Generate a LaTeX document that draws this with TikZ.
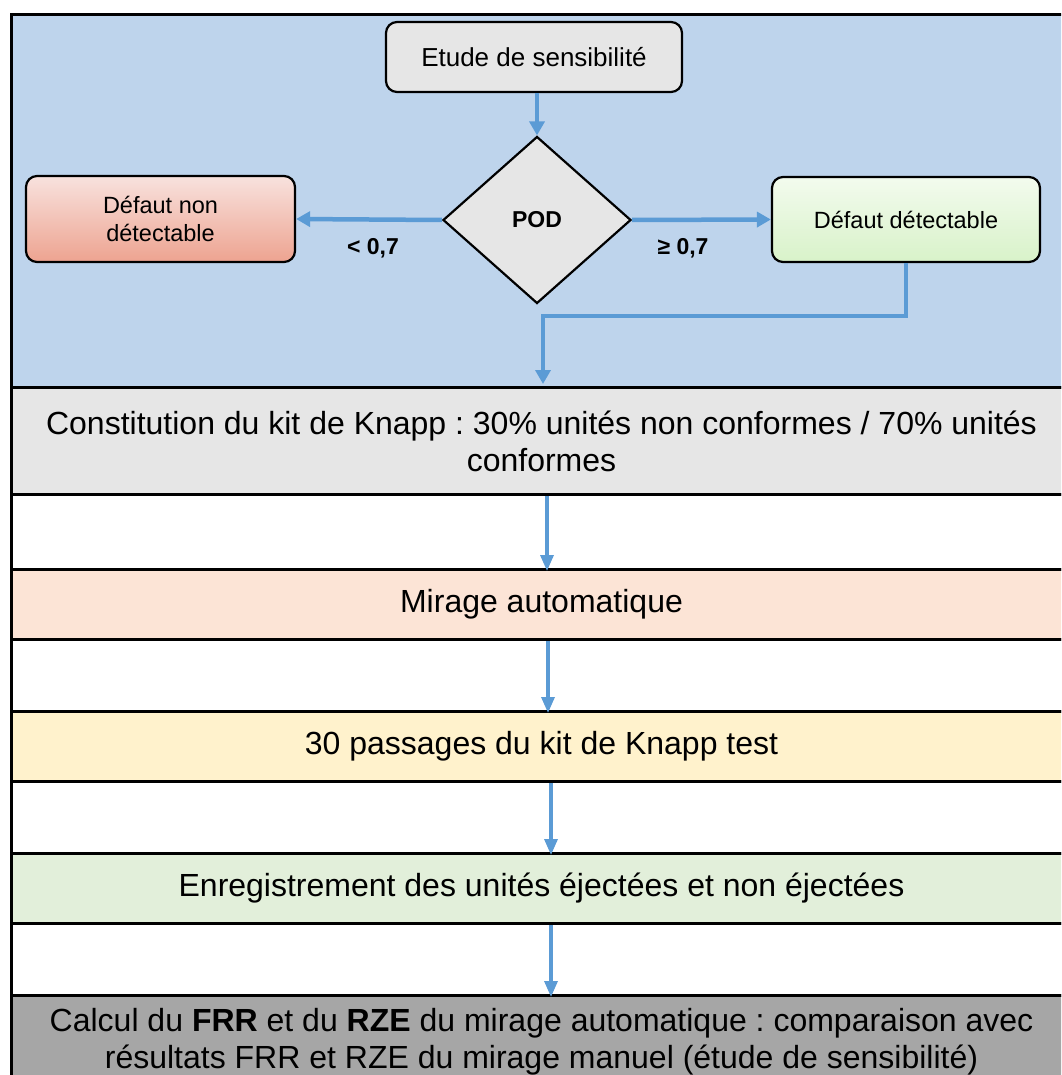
\documentclass[tikz,border=0pt]{standalone}
\usepackage{fontspec}
\setmainfont{Liberation Sans}
\usetikzlibrary{shapes.geometric,arrows.meta}
\frenchspacing
\definecolor{bgblue}{HTML}{BED4EC}
\definecolor{lgrey}{HTML}{E6E6E6}
\definecolor{arrowblue}{HTML}{5B9BD5}
\definecolor{rowpeach}{HTML}{FCE4D6}
\definecolor{rowyellow}{HTML}{FFF2CC}
\definecolor{rowgreen}{HTML}{E2EFDA}
\definecolor{rowdark}{HTML}{A6A6A6}
\definecolor{redtop}{HTML}{F8E2DE}
\definecolor{redbot}{HTML}{EDA390}
\definecolor{greentop}{HTML}{F3FBEE}
\definecolor{greenbot}{HTML}{D8F2C9}
\tikzset{
  rowbox/.style={draw=black, line width=3pt, rectangle, minimum width=1060pt, inner sep=0pt, align=center, font=\fontsize{32}{37}\selectfont},
  smallbox/.style={draw=black, line width=2.2pt, rounded corners=11pt, inner sep=0pt, align=center, font=\fontsize{23.5}{28}\selectfont},
  toparrow/.style={draw=arrowblue, line width=4.5pt, -{Triangle[width=15pt,length=14pt]}},
  lowarrow/.style={draw=arrowblue, line width=3.2pt, -{Triangle[width=13pt,length=16pt]}},
  condlabel/.style={font=\bfseries\fontsize{23}{27}\selectfont, inner sep=0pt}
}
\begin{document}
\begin{tikzpicture}[x=1pt, y={(0pt,-1pt)}]
\useasboundingbox (0,0) rectangle (1061,1075);
\clip (0,0) rectangle (1061,1075);
% blue region
\node[rowbox, fill=bgblue, minimum height=373pt, anchor=north west] (blue) at (10,13) {};
% rows
\node[rowbox, fill=lgrey, minimum height=107pt, anchor=north west] (kit) at (10,386)
  {Constitution du kit de Knapp : 30\% unités non conformes / 70\% unités\\conformes};
\node[rowbox, fill=white, minimum height=75pt, anchor=north west] (w1) at (10,493) {};
\node[rowbox, fill=rowpeach, minimum height=70pt, anchor=north west] (mir) at (10,568) {Mirage automatique};
\node[rowbox, fill=white, minimum height=72pt, anchor=north west] (w2) at (10,638) {};
\node[rowbox, fill=rowyellow, minimum height=70pt, anchor=north west] (pas) at (10,710) {30 passages du kit de Knapp test};
\node[rowbox, fill=white, minimum height=72pt, anchor=north west] (w3) at (10,780) {};
\node[rowbox, fill=rowgreen, minimum height=70pt, anchor=north west] (enr) at (10,852) {Enregistrement des unités éjectées et non éjectées};
\node[rowbox, fill=white, minimum height=72pt, anchor=north west] (w4) at (10,922) {};
\node[rowbox, fill=rowdark, minimum height=92pt, anchor=north west] (calc) at (10,994)
  {Calcul du \textbf{FRR} et du \textbf{RZE} du mirage automatique : comparaison avec\\résultats FRR et RZE du mirage manuel (étude de sensibilité)};
% top boxes
\node[smallbox, fill=lgrey, minimum width=296pt, minimum height=70pt, font=\fontsize{26}{30}\selectfont] (etude) at (534,57) {Etude de sensibilité};
\node[draw=black, line width=2.2pt, diamond, fill=lgrey, minimum width=188pt, minimum height=167pt, inner sep=0pt, font=\bfseries\fontsize{23}{27}\selectfont] (pod) at (537,220) {POD};
\node[smallbox, top color=redtop, bottom color=redbot, minimum width=269pt, minimum height=86pt] (nd) at (160.5,219) {Défaut non\\détectable};
\node[smallbox, top color=greentop, bottom color=greenbot, minimum width=268pt, minimum height=85pt] (dd) at (906,219.5) {Défaut détectable};
% labels
\node[condlabel] (l1) at (373,248) {< 0,7};
\node[condlabel] (l2) at (683,248) {≥ 0,7};
% connectors
\draw[toparrow] (etude.south -| pod.north) -- (pod.north);
\draw[toparrow] (pod.west) -- (nd.east);
\draw[toparrow] (pod.east) -- (dd.east -| dd.west);
\coordinate (kin) at (543,384);
\draw[toparrow, rounded corners=0pt] (dd.south) -- ++(0,53) -| (kin);
\draw[lowarrow] (kit.south -| 547,0) -- (w1.south -| 547,0);
\draw[lowarrow] (mir.south -| 548,0) -- (w2.south -| 548,0);
\draw[lowarrow] (pas.south -| 551,0) -- (w3.south -| 551,0);
\draw[lowarrow] (enr.south -| 551,0) -- (w4.south -| 551,0);
\end{tikzpicture}
\end{document}
